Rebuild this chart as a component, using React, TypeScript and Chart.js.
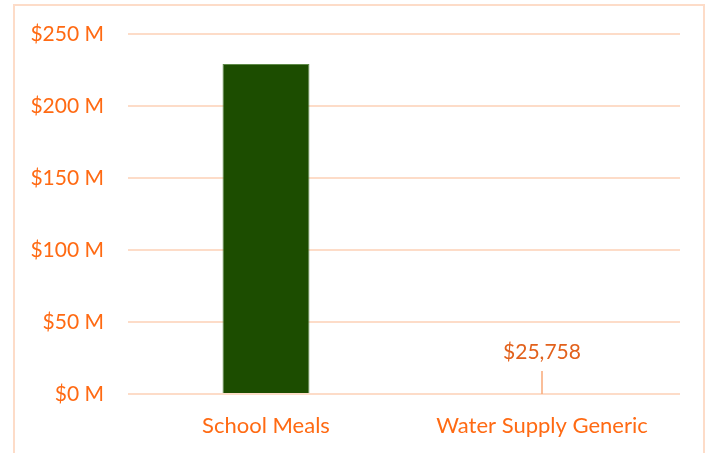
import React, { useEffect, useRef } from "react";
import { Chart, registerables } from "chart.js";

Chart.register(...registerables);

const categories = ["School Meals", "Water Supply Generic"];
const values = [229200000, 25758];
const yTicks = [0, 50000000, 100000000, 150000000, 200000000, 250000000];
const labelledIndex = 1;
const labelText = "$25,758";

const ORANGE = "#ff6a13";
const GRID = "#fddcc8";
const FONT = "Lato, 'Open Sans', sans-serif";

const leaderPlugin = {
  id: "leaderLabel",
  afterDatasetsDraw(chart: any) {
    const meta = chart.getDatasetMeta(0);
    const el = meta.data[labelledIndex];
    if (!el) return;
    const ctx = chart.ctx;
    const x = el.x;
    const y = chart.scales.y.getPixelForValue(values[labelledIndex]);
    ctx.save();
    ctx.strokeStyle = "#f9a877";
    ctx.lineWidth = 1.5;
    ctx.beginPath();
    ctx.moveTo(x, y);
    ctx.lineTo(x, y - 23);
    ctx.stroke();
    ctx.fillStyle = "#e2611c";
    ctx.font = "21px " + FONT;
    ctx.textAlign = "center";
    ctx.textBaseline = "middle";
    ctx.fillText(labelText, x, y - 42);
    ctx.restore();
  },
};

export default function App() {
  const ref = useRef<HTMLCanvasElement>(null);
  useEffect(() => {
    if (!ref.current) return;
    const chart = new Chart(ref.current, {
      type: "bar",
      data: {
        labels: categories,
        datasets: [
          {
            data: values,
            backgroundColor: ["#1c4d00", "rgba(28,77,0,0)"],
            borderColor: "#5e8a48",
            borderWidth: [1, 0],
            barPercentage: 0.63,
            categoryPercentage: 0.5,
          },
        ],
      },
      plugins: [leaderPlugin],
      options: {
        animation: false,
        responsive: false,
        maintainAspectRatio: false,
        layout: { padding: { left: 0, right: 35, top: 34, bottom: 0 } },
        plugins: { legend: { display: false }, tooltip: { enabled: false } },
        scales: {
          x: {
            grid: { display: false, drawTicks: false },
            border: { display: false },
            ticks: {
              color: ORANGE,
              font: { family: FONT, size: 22 },
              padding: 19,
            },
            afterFit: (s: any) => {
              s.height = 59;
              s.paddingLeft = 0;
              s.paddingRight = 0;
            },
          },
          y: {
            min: 0,
            max: 250000000,
            afterBuildTicks: (s: any) => {
              s.ticks = yTicks.map((v) => ({ value: v }));
            },
            grid: { color: GRID, lineWidth: 2, drawTicks: false },
            border: { display: false },
            ticks: {
              color: ORANGE,
              font: { family: FONT, size: 21 },
              padding: 24,
              callback: (v: any) => "$" + Math.round(Number(v) / 1000000) + " M",
            },
            afterFit: (s: any) => {
              s.width = 128;
              s.paddingTop = 0;
              s.paddingBottom = 0;
            },
          },
        },
      },
    });
    return () => chart.destroy();
  }, []);
  return (
    <div style={{ position: "fixed", left: 0, top: 0, width: 715, height: 453, background: "#fff", overflow: "hidden" }}>
      <div
        style={{
          position: "absolute",
          left: 13,
          top: 4,
          width: 692,
          height: 470,
          border: "2px solid " + GRID,
          boxSizing: "border-box",
        }}
      />
      <canvas ref={ref} width={715} height={453} style={{ position: "absolute", left: 0, top: 0 }} />
    </div>
  );
}
